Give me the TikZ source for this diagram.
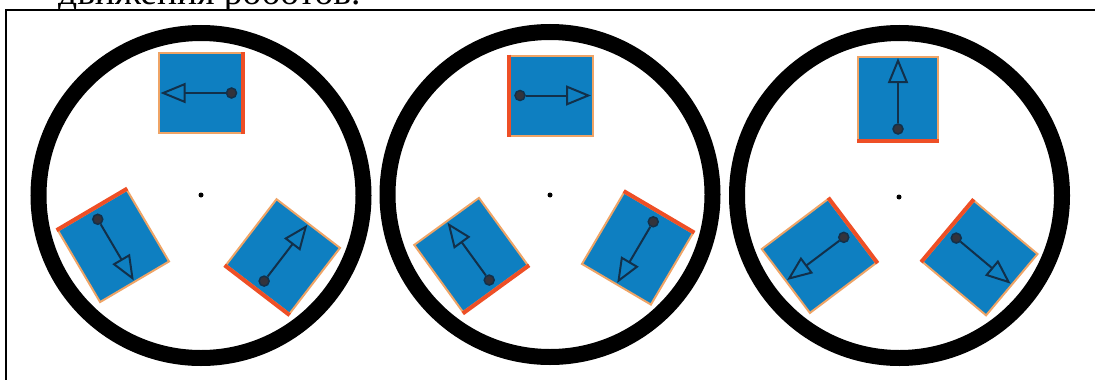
\documentclass[tikz,border=0pt]{standalone}
\usepackage{fontspec}
\setmainfont{Liberation Serif}
\usetikzlibrary{arrows.meta}
\definecolor{body}{HTML}{0E7FC1}
\definecolor{rim}{HTML}{EFA466}
\definecolor{back}{HTML}{EE4F26}
\definecolor{navy}{HTML}{12304A}
\definecolor{hubfill}{HTML}{33333C}
\tikzset{
  ring/.style={circle,draw=black,line width=16pt,minimum size=325pt,inner sep=0pt},
  pivot/.style={circle,fill=black,minimum size=5pt,inner sep=0pt},
  robotbody/.style={draw=rim,fill=body,line width=2pt,minimum width=83pt,minimum height=80pt,inner sep=0pt,transform shape},
  backedge/.style={back,line width=4pt},
  hub/.style={circle,draw=navy,fill=hubfill,line width=1.5pt,minimum size=10pt,inner sep=0pt},
  pointer/.style={navy,line width=2pt,-{Triangle[open,length=25pt,width=20pt]}}
}
% name, x, y, heading
\newcommand{\robot}[4]{
  \begin{scope}[shift={(#2,#3)},rotate=#4]
    \node[robotbody] (#1) at (0,0) {};
    \draw[backedge] (#1.north west) -- (#1.south west);
    \node[hub] (#1hub) at (-31,0) {};
    \coordinate (#1tip) at (40,0);
    \draw[pointer] (#1hub) -- (#1tip);
  \end{scope}
}

\begin{document}
\begin{tikzpicture}[x=1pt,y=-1pt]
  \useasboundingbox (0,0) rectangle (1095,380);

  % Text above the frame
  \begin{scope}
    \clip (0,0) rectangle (1095,10);
    \node[font=\fontsize{37.5}{42}\selectfont,anchor=base west,inner sep=0pt] (caption) at (58,5) {движения роботов.};
  \end{scope}

  % Frame
  \draw[black,line width=1.5pt] (6,380) -- (6,10) -- (1095,10);

  % Left arena
  \node[ring] (ringa) at (201,195.5) {};
  \node[pivot] (pivota) at (201,195) {};
  \robot{atop}{200.5}{93}{180}
  \robot{aleft}{113.5}{246}{-59.5}
  \robot{aright}{283}{256.5}{52.5}

  % Middle arena
  \node[ring] (ringb) at (550,194.5) {};
  \node[pivot] (pivotb) at (550,195) {};
  \robot{btop}{551}{95.5}{0}
  \robot{bleft}{471}{255}{126}
  \robot{bright}{637.5}{248.5}{239.5}

  % Right arena
  \node[ring] (ringc) at (899.5,195.5) {};
  \node[pivot] (pivotc) at (899,197) {};
  \robot{ctop}{898}{98}{90}
  \robot{cleft}{819}{256}{217}
  \robot{cright}{980}{258}{-40}
\end{tikzpicture}
\end{document}
